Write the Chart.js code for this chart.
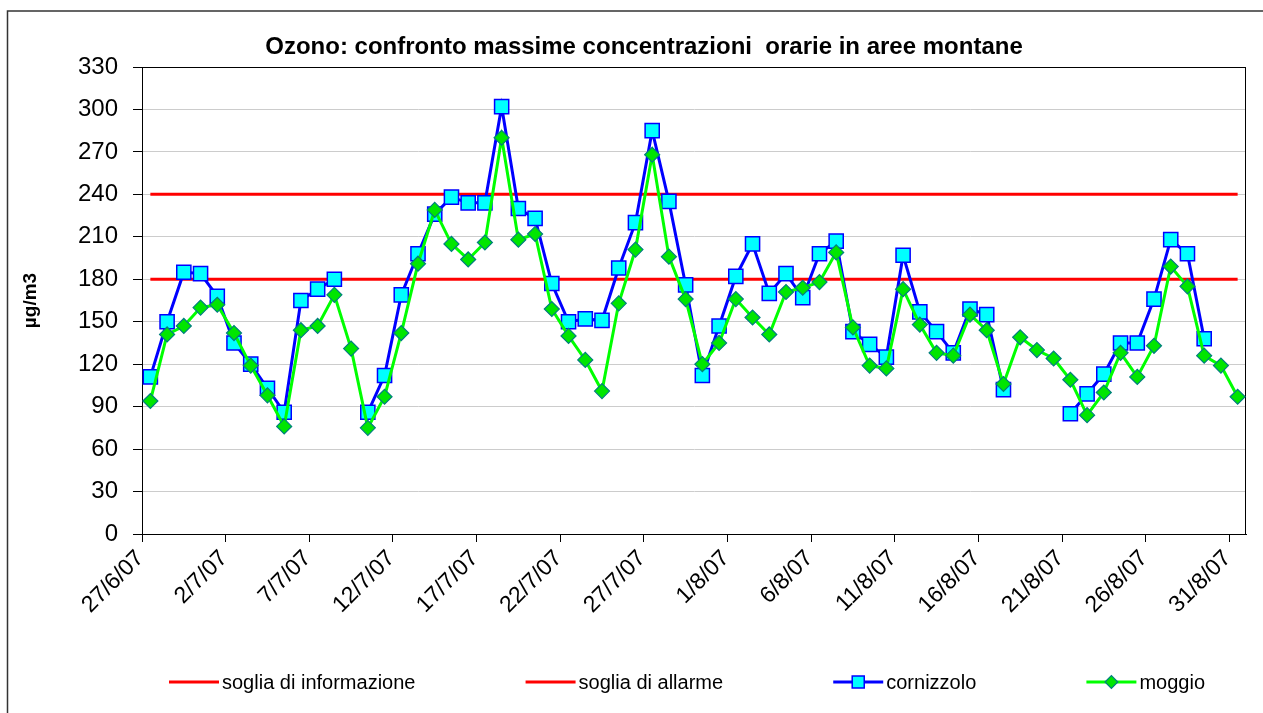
<!DOCTYPE html>
<html lang="it">
<head>
  <meta charset="UTF-8" />
  <title>Ozono: confronto massime concentrazioni orarie in aree montane</title>
  <script src="https://cdn.jsdelivr.net/npm/chart.js@4"></script>
  <style>
    html, body { margin: 0; padding: 0; background: #fff; }
    canvas { display: block; }
  </style>
</head>
<body>
  <canvas id="ozoneChart" width="1263" height="713"></canvas>

  <script>
    // one entry per day, 27/6/07 .. 31/8/07
    const days = [
      '27/6/07', '28/6/07', '29/6/07', '30/6/07',
      '1/7/07', '2/7/07', '3/7/07', '4/7/07', '5/7/07', '6/7/07', '7/7/07', '8/7/07',
      '9/7/07', '10/7/07', '11/7/07', '12/7/07', '13/7/07', '14/7/07', '15/7/07', '16/7/07',
      '17/7/07', '18/7/07', '19/7/07', '20/7/07', '21/7/07', '22/7/07', '23/7/07', '24/7/07',
      '25/7/07', '26/7/07', '27/7/07', '28/7/07', '29/7/07', '30/7/07', '31/7/07',
      '1/8/07', '2/8/07', '3/8/07', '4/8/07', '5/8/07', '6/8/07', '7/8/07', '8/8/07',
      '9/8/07', '10/8/07', '11/8/07', '12/8/07', '13/8/07', '14/8/07', '15/8/07', '16/8/07',
      '17/8/07', '18/8/07', '19/8/07', '20/8/07', '21/8/07', '22/8/07', '23/8/07', '24/8/07',
      '25/8/07', '26/8/07', '27/8/07', '28/8/07', '29/8/07', '30/8/07', '31/8/07'
    ];

    // max hourly ozone, µg/m3 (null = no data)
    const cornizzolo = [
      111, 150, 185, 184, 168, 135, 120, 103, 86, 165,
      173, 180, null, 86, 112, 169, 198, 226, 238, 234,
      234, 302, 230, 223, 177, 150, 152, 151, 188, 220,
      285, 235, 176, 112, 147, 182, 205, 170, 184, 167,
      198, 207, 143, 134, 125, 197, 157, 143, 128, 159,
      155, 102, null, null, null, 85, 99, 113, 135, 135,
      166, 208, 198, 138, null, null
    ];
    const moggio = [
      94, 141, 147, 160, 162, 142, 119, 98, 76, 144,
      147, 169, 131, 75, 97, 142, 191, 229, 205, 194,
      206, 280, 208, 212, 159, 140, 123, 101, 163, 201,
      268, 196, 166, 120, 135, 166, 153, 141, 171, 174,
      178, 199, 146, 119, 117, 173, 148, 128, 126, 155,
      144, 106, 139, 130, 124, 109, 84, 100, 128, 111,
      133, 189, 175, 126, 119, 97
    ];

    const infoThreshold = 180;   // soglia di informazione
    const alarmThreshold = 240;  // soglia di allarme

    const yMin = 0;
    const yMax = 330;
    const yStep = 30;

    const FONT = '"Liberation Sans", Arial, Helvetica, sans-serif';

    // frame round the plot and round the whole chart
    const frames = {
      id: 'frames',
      beforeDatasetsDraw(chart) {
        const { ctx, chartArea: a } = chart;
        ctx.save();
        ctx.strokeStyle = '#000';
        ctx.lineWidth = 1;
        ctx.strokeRect(Math.round(a.left) + 0.5, Math.round(a.top) + 0.5,
          Math.round(a.right - a.left) - 1, Math.round(a.bottom - a.top));
        ctx.restore();
      },
      afterDraw(chart) {
        const ctx = chart.ctx;
        ctx.save();
        ctx.strokeStyle = '#333';
        ctx.lineWidth = 1.5;
        ctx.strokeRect(7.5, 11, chart.width + 10, chart.height + 10);
        ctx.restore();
      }
    };

    // Excel-like legend: one row, items spread along the bottom
    const bottomLegend = {
      id: 'bottomLegend',
      afterDraw(chart) {
        const { ctx, chartArea: a } = chart;
        const y = chart.height - 31;
        const lineLen = 50;
        ctx.save();
        ctx.font = '20px ' + FONT;
        ctx.textBaseline = 'middle';
        const items = chart.data.datasets.map(ds => ({ ds, w: lineLen + 3 + ctx.measureText(ds.label).width }));
        const left = a.left + 27;
        const right = a.right - 41;
        const total = items.reduce((s, it) => s + it.w, 0);
        const gap = (right - left - total) / (items.length - 1);
        let x = left;
        items.forEach(({ ds, w }) => {
          ctx.strokeStyle = ds.borderColor;
          ctx.lineWidth = ds.borderWidth;
          ctx.beginPath();
          ctx.moveTo(x, y);
          ctx.lineTo(x + lineLen, y);
          ctx.stroke();
          if (ds.pointRadius > 0) {
            ctx.fillStyle = ds.pointBackgroundColor;
            ctx.strokeStyle = ds.pointBorderColor;
            ctx.lineWidth = ds.pointBorderWidth;
            Chart.helpers.drawPoint(ctx, {
              pointStyle: ds.pointStyle,
              radius: ds.pointRadius * 0.85,
              borderWidth: ds.pointBorderWidth
            }, x + lineLen / 2, y);
          }
          ctx.fillStyle = '#000';
          ctx.fillText(ds.label, x + lineLen + 3, y + 1);
          x += w + gap;
        });
        ctx.restore();
      }
    };

    // title is centred a little right of the canvas middle, as in the sheet
    const titleShift = {
      id: 'titleShift',
      afterLayout(chart) {
        if (chart.titleBlock) chart.titleBlock.left += 42;
      }
    };

    new Chart(document.getElementById('ozoneChart'), {
      type: 'line',
      data: {
        labels: days,
        datasets: [
          {
            label: 'soglia di informazione',
            data: days.map(() => infoThreshold),
            borderColor: '#ff0000',
            borderWidth: 3,
            pointRadius: 0,
            order: 4
          },
          {
            label: 'soglia di allarme',
            data: days.map(() => alarmThreshold),
            borderColor: '#ff0000',
            borderWidth: 3,
            pointRadius: 0,
            order: 3
          },
          {
            label: 'cornizzolo',
            data: cornizzolo,
            borderColor: '#0000ff',
            borderWidth: 3,
            pointStyle: 'rect',
            pointRadius: 10,
            pointBackgroundColor: '#00ffff',
            pointBorderColor: '#0000ff',
            pointBorderWidth: 1.5,
            order: 2
          },
          {
            label: 'moggio',
            data: moggio,
            borderColor: '#00ff00',
            borderWidth: 3,
            pointStyle: 'rectRot',
            pointRadius: 7.5,
            pointBackgroundColor: '#00e600',
            pointBorderColor: '#007f7f',
            pointBorderWidth: 1.2,
            order: 1
          }
        ]
      },
      options: {
        responsive: false,
        animation: false,
        layout: { padding: { left: 0, right: 17, top: 0, bottom: 50 } },
        plugins: {
          legend: { display: false },
          tooltip: { enabled: false },
          title: {
            display: true,
            text: 'Ozono: confronto massime concentrazioni  orarie in aree montane',
            color: '#000',
            font: { family: FONT, size: 24, weight: 'bold' },
            padding: { top: 32.6, bottom: 5.6 }
          }
        },
        scales: {
          x: {
            offset: true,
            grid: {
              display: true,
              drawOnChartArea: false,
              offset: true,
              tickLength: 8,
              tickColor: ctx => (ctx.index % 5 === 0 && ctx.index < days.length ? '#000' : 'rgba(0,0,0,0)')
            },
            border: { color: '#000', width: 1 },
            ticks: {
              autoSkip: false,
              minRotation: 45,
              maxRotation: 45,
              labelOffset: -10,
              padding: 3,
              color: '#000',
              font: { family: FONT, size: 23 },
              callback: function (value, index) {
                return index % 5 === 0 ? this.getLabelForValue(value) : '';
              }
            },
            afterFit: scale => { scale.height = 129; }
          },
          y: {
            min: yMin,
            max: yMax,
            grid: {
              color: '#cccccc',
              lineWidth: 1,
              tickColor: '#000',
              tickLength: 9
            },
            border: { color: '#000', width: 1 },
            ticks: {
              stepSize: yStep,
              padding: 15,
              color: '#000',
              font: { family: FONT, size: 24 }
            },
            title: {
              display: true,
              text: 'µg/m3',
              color: '#000',
              font: { family: FONT, size: 19, weight: 'bold' },
              padding: { top: 19, bottom: 0 }
            },
            afterFit: scale => { scale.width = 142; }
          }
        }
      },
      plugins: [frames, bottomLegend, titleShift]
    });
  </script>
</body>
</html>
